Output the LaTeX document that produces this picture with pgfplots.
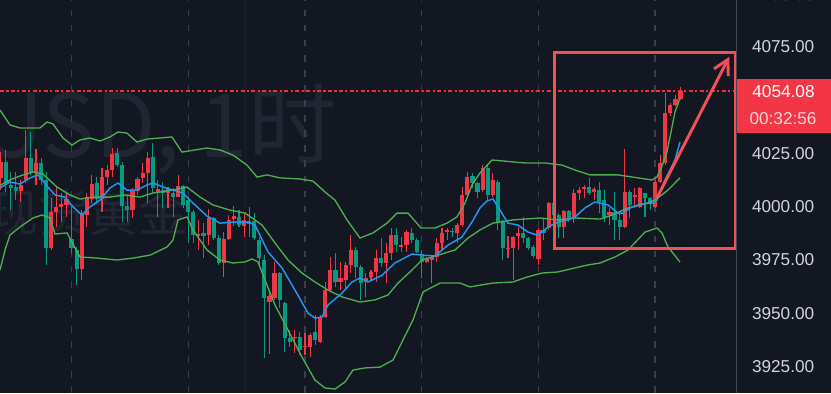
\documentclass[border=0pt]{standalone}
\usepackage{fontspec}
\setmainfont{Liberation Sans}
\newfontfamily\cjk{Noto Sans CJK SC}
\usepackage{pgfplots}
\pgfplotsset{compat=1.18}
\usepackage{pgfplotstable}
\usetikzlibrary{arrows.meta}
\definecolor{bg}{RGB}{19,23,34}
\definecolor{cR}{RGB}{242,54,69}
\definecolor{cG}{RGB}{8,153,129}
\definecolor{bb}{RGB}{76,175,80}
\definecolor{ma}{RGB}{33,150,243}
\definecolor{gridc}{RGB}{58,62,76}
\definecolor{wm}{RGB}{33,37,49}
\definecolor{ann}{RGB}{242,80,84}
\definecolor{lbl}{RGB}{209,212,220}
\definecolor{sep}{RGB}{67,70,81}
\definecolor{faint}{RGB}{28,32,44}
\definecolor{pline}{RGB}{255,40,60}

% up candles (red), columns: index open high low close
\pgfplotstableread{
k o h l c
0 4013.3 4025.8 4007.8 4021.1
4 4007.5 4012.5 4002.3 4010.2
5 4012.5 4035.9 4010.9 4022.7
7 4015.6 4026.9 4010.2 4020.3
10 3980.5 4003.9 3979.7 3997.6
11 3997.6 4009.4 3990.6 4000.0
12 4000.0 4006.2 3993.0 4001.1
13 4000.8 4006.2 3995.3 4003.4
16 3970.6 3998.4 3965.6 3996.9
17 3996.1 4006.2 3990.6 4004.7
18 4003.4 4014.8 4001.6 4010.6
20 4003.4 4018.0 3997.6 4013.7
21 4013.7 4019.5 4010.2 4017.2
22 4017.2 4027.3 4014.1 4024.7
26 3998.4 4008.6 3994.5 4007.5
27 4007.5 4014.1 4005.5 4012.8
28 4013.3 4020.3 4011.0 4015.6
29 4015.6 4025.8 4001.6 4022.7
31 4007.0 4012.5 3995.3 4008.1
33 4006.3 4009.4 3999.2 4008.6
35 4004.7 4014.9 4004.7 4009.7
39 3986.3 3993.8 3979.7 3987.2
41 3986.7 3998.8 3982.0 3994.5
44 3973.4 3988.3 3967.2 3984.7
45 3984.7 3996.1 3984.4 3993.8
46 3994.1 4000.3 3991.0 3995.6
48 3990.9 3997.0 3985.8 3993.8
49 3992.0 4000.0 3986.0 3993.5
53 3955.5 3960.0 3931.0 3958.0
54 3957.0 3974.2 3956.3 3968.8
58 3938.3 3942.2 3931.2 3939.1
60 3934.4 3940.6 3930.5 3934.7
61 3934.4 3940.6 3929.7 3939.8
63 3936.7 3949.2 3935.9 3948.4
64 3948.4 3964.8 3947.7 3960.9
65 3960.9 3976.6 3960.2 3970.3
67 3964.8 3974.2 3960.9 3966.4
68 3965.6 3974.2 3961.7 3972.7
69 3972.7 3986.7 3968.8 3979.7
72 3964.9 3968.8 3957.8 3966.4
73 3967.2 3970.3 3965.6 3969.5
74 3969.5 3979.7 3964.9 3975.8
76 3973.4 3982.8 3964.1 3978.1
77 3978.1 3989.9 3975.0 3986.7
79 3981.3 3985.9 3978.9 3982.0
80 3982.0 3989.1 3978.9 3988.3
84 3974.2 3976.6 3973.4 3975.8
85 3975.0 3976.9 3964.4 3976.6
86 3976.6 3985.2 3974.2 3982.8
87 3982.8 3989.9 3979.7 3987.5
88 3988.3 3989.9 3984.4 3989.1
90 3987.5 3992.2 3982.8 3991.4
91 3991.4 4009.4 3990.6 4005.5
92 4005.5 4016.4 4004.7 4014.1
95 4007.8 4019.5 4007.0 4018.0
97 4005.5 4015.9 4004.7 4012.5
100 3980.2 3986.3 3975.8 3980.8
101 3980.5 3986.3 3965.6 3985.6
102 3986.3 3990.3 3979.7 3987.5
106 3975.3 3989.9 3972.7 3989.1
108 3989.9 4002.4 3989.1 4001.6
111 3990.3 3998.4 3985.2 3998.0
113 3994.5 4008.1 3992.2 4006.6
114 4006.6 4009.4 4003.1 4007.8
115 4008.1 4010.2 4003.9 4009.1
117 4007.0 4009.1 4003.1 4008.1
120 3996.1 3999.2 3991.4 3997.7
123 3990.6 4026.9 3989.9 4007.0
125 4004.7 4008.6 3999.2 4005.5
126 4000.0 4009.1 3999.2 4008.6
129 4000.0 4012.5 3999.2 4011.7
130 4011.7 4024.2 4010.9 4020.3
131 4020.3 4053.2 4019.5 4043.8
132 4043.8 4048.5 4042.5 4047.7
133 4047.7 4052.4 4047.0 4050.5
134 4050.5 4056.2 4050.0 4054.08
}\upc

% down candles (green)
\pgfplotstableread{
k o h l c
1 4021.1 4026.6 4007.0 4010.9
2 4010.2 4016.4 3998.4 4008.6
3 4009.1 4016.4 4003.1 4007.5
6 4022.7 4035.2 4014.8 4016.4
8 4020.3 4022.7 4010.2 4012.5
9 4012.5 4016.4 3972.6 3980.5
14 3984.7 4000.0 3978.1 3980.5
15 3979.7 3981.2 3963.3 3970.6
19 4010.9 4013.7 4001.6 4003.4
23 4025.0 4027.3 4018.7 4019.5
24 4019.5 4021.1 3993.0 4000.3
25 4000.3 4005.5 3993.0 3998.4
30 4023.4 4030.0 4006.3 4008.6
32 4007.8 4011.7 3999.2 4006.6
34 4006.3 4008.6 3995.3 4004.7
36 4009.7 4010.2 3999.2 4000.8
37 4003.1 4004.7 3982.8 3997.7
38 3997.7 3998.4 3982.8 3986.7
40 3987.5 3992.2 3975.8 3986.3
42 3994.5 3995.3 3984.4 3985.2
43 3985.2 3986.7 3972.7 3973.4
47 3995.3 3998.4 3990.6 3991.4
50 3993.5 3996.9 3984.4 3985.2
51 3984.4 3986.0 3972.7 3975.8
52 3975.0 3977.3 3928.9 3957.0
55 3968.8 3969.5 3952.3 3956.3
56 3954.7 3955.5 3932.0 3938.3
57 3938.3 3942.2 3934.4 3936.7
59 3939.1 3941.4 3930.5 3932.8
62 3941.4 3949.2 3935.2 3937.5
66 3970.3 3978.4 3962.5 3964.8
70 3979.7 3980.9 3966.4 3971.9
71 3971.9 3972.7 3956.3 3964.1
75 3975.8 3985.2 3971.9 3973.4
78 3986.7 3989.9 3978.9 3982.0
81 3987.8 3989.9 3982.8 3984.4
82 3984.4 3985.2 3978.1 3978.9
83 3977.8 3979.7 3966.4 3974.2
89 3988.6 3989.9 3986.0 3988.0
93 4014.4 4015.6 4008.6 4010.9
94 4010.9 4011.7 4003.9 4007.0
96 4018.0 4019.5 4003.1 4005.5
98 4011.7 4012.5 3989.1 3993.0
99 3993.0 3993.8 3975.0 3980.5
103 3987.5 3995.3 3982.8 3985.2
104 3985.2 3986.0 3979.7 3980.5
105 3980.9 3982.0 3975.8 3976.9
107 3989.1 3994.5 3984.4 3987.5
109 4001.6 4004.7 3994.5 3996.1
110 3996.1 3996.9 3985.2 3990.3
112 3998.0 3998.4 3993.0 3994.5
116 4009.4 4013.3 4005.5 4006.3
118 4007.8 4011.5 3997.0 4002.0
119 4003.1 4007.8 3993.0 3995.3
121 3997.7 4007.0 3984.4 3993.8
122 3993.8 3996.9 3984.4 3990.6
124 4007.0 4007.8 3994.5 4000.8
127 4006.3 4006.3 3995.3 4003.9
128 4003.9 4004.7 3998.4 4001.6
}\dnc

\pgfplotstableread{
k p
-0.1 4045.3
1.87 4038.3
3.84 4036.9
7.78 4036.9
9.16 4039.7
10.34 4038.8
12.32 4032.2
14.09 4028.9
15.67 4031.3
17.64 4032.2
19.61 4030.8
21.58 4032.7
23.15 4035.0
24.93 4034.5
26.90 4030.3
28.87 4031.7
31.43 4032.2
33.79 4032.7
35.76 4025.6
38.33 4026.6
40.69 4027.5
43.25 4026.6
45.81 4024.2
48.57 4019.5
50.54 4013.9
52.51 4014.9
55.07 4013.5
59.01 4013.0
61.58 4012.0
63.94 4006.9
65.91 4003.1
68.28 3993.8
70.84 3985.3
73.40 3987.7
76.16 3992.3
78.13 3997.0
80.30 3997.0
82.86 3990.0
85.62 3990.0
87.98 3992.3
89.95 3995.2
91.53 4001.7
92.91 4010.2
94.48 4015.8
96.85 4021.9
103.35 4020.5
107.29 4020.5
110.64 4019.5
113.20 4017.2
116.16 4014.9
121.68 4014.9
125.62 4013.5
128.37 4012.5
129.36 4013.9
130.35 4019.1
131.33 4025.6
132.91 4044.4
133.89 4051.0
}\bbup

\pgfplotstableread{
k p
-0.1 3970.3
0.89 3979.7
1.87 3986.7
3.84 3990.5
6.40 3994.7
8.18 3996.1
9.75 3994.7
10.74 3987.2
13.10 3987.7
15.67 3976.4
19.01 3975.9
22.96 3975.0
26.11 3975.9
29.46 3977.3
32.81 3981.1
33.99 3984.4
34.98 3993.8
36.75 3995.2
37.93 3989.1
40.69 3979.7
43.25 3975.0
45.81 3973.6
48.18 3974.1
49.56 3975.5
50.74 3974.1
52.12 3965.6
54.09 3953.9
56.65 3942.2
59.41 3929.5
61.97 3918.7
63.94 3915.0
65.91 3914.5
67.88 3917.8
69.46 3923.4
71.82 3924.4
74.78 3924.8
77.34 3928.1
79.31 3937.5
81.28 3946.9
83.25 3960.0
86.60 3964.2
90.54 3964.2
92.51 3962.4
97.04 3964.2
100.99 3964.7
103.74 3967.0
106.70 3968.9
109.85 3969.4
113.20 3971.3
115.76 3972.7
118.13 3973.6
121.08 3976.4
123.65 3979.7
127.00 3988.1
129.36 3990.0
130.35 3987.7
131.53 3981.1
133.89 3974.1
}\bblow

\pgfplotstableread{
k p
-0.1 4010.0
1.87 4012.5
3.84 4014.4
6.40 4016.3
8.37 4015.3
11.13 4009.2
13.69 4005.5
15.67 4003.6
18.23 4004.5
21.58 4004.5
24.53 4005.5
27.49 4004.5
30.05 4006.4
33.99 4007.8
36.75 4009.2
39.31 4004.5
41.87 4000.8
45.22 3998.4
48.18 3997.0
51.53 3991.4
54.09 3983.0
56.65 3975.0
59.41 3968.9
61.97 3964.7
64.53 3960.9
67.29 3957.7
70.84 3955.3
73.79 3956.3
76.35 3958.6
78.33 3964.2
81.08 3970.3
83.05 3975.0
86.21 3977.3
89.56 3979.7
92.12 3985.3
94.48 3989.1
97.04 3992.3
100.99 3993.8
106.31 3994.7
109.85 3993.8
113.20 3994.7
118.13 3994.2
120.49 3996.1
123.65 3999.4
127.00 4001.3
128.97 4003.1
131.53 4007.8
133.89 4013.5
}\bbmid

\pgfplotstableread{
k p
-0.1 4008.8
1.87 4011.6
3.84 4010.6
5.81 4013.5
7.39 4014.9
9.16 4009.7
10.74 4005.5
12.71 4004.5
14.29 3999.9
16.06 3996.1
17.64 3999.9
19.61 4003.1
21.58 4008.8
23.15 4011.1
24.93 4007.8
26.90 4007.8
28.87 4010.2
30.05 4011.1
32.02 4009.2
33.99 4007.8
35.96 4006.4
37.93 4001.7
40.69 3995.6
43.25 3992.3
46.21 3992.8
48.77 3992.8
50.15 3991.4
52.71 3978.8
55.47 3971.3
58.03 3960.9
60.59 3950.1
61.97 3947.8
63.35 3948.3
64.53 3953.9
67.29 3959.5
69.26 3964.7
70.84 3966.6
72.41 3964.7
75.17 3967.8
77.73 3973.6
81.08 3977.8
83.05 3977.3
85.62 3976.9
88.18 3982.0
90.94 3985.8
92.91 3992.8
94.48 3999.4
95.86 4002.7
97.04 4003.6
98.42 3998.4
100.00 3992.3
101.97 3991.4
103.94 3988.1
105.71 3986.7
106.70 3988.1
107.88 3990.5
109.85 3992.8
111.82 3993.8
113.20 3995.2
115.17 3999.4
117.14 4002.2
119.70 4000.8
121.68 3997.0
122.66 3997.0
124.43 3999.9
126.41 4001.3
128.57 4001.7
129.36 4003.1
130.94 4012.5
132.91 4021.9
133.89 4030.3
}\mavg

\begin{document}
\begin{tikzpicture}
\begin{scope}[x=0.75pt,y=-0.75pt]
\fill[bg] (0,0) rectangle (831,393);
\begin{scope}
\clip (0,0) rectangle (736,393);
\draw[faint, line width=0.75pt] (245,0) -- (245,393);
\node[anchor=base east, inner sep=0pt, text=wm, font=\cjk\fontsize{66}{70}\selectfont] at (337,157) {XAUUSD, 1时};
\node[anchor=base east, inner sep=0pt, text=wm, font=\cjk\fontsize{37.5}{40}\selectfont] at (189,231) {现货黄金};
\end{scope}
\end{scope}
\begin{axis}[
  at={(0pt,0pt)}, anchor=north west,
  scale only axis, width=552pt, height=294.75pt,
  xmin=-0.0985, xmax=144.93, ymin=3912.65, ymax=4096.9,
  axis line style={draw=none},
  xtick={14,37,60,83,106,129}, xticklabels={},
  xmajorgrids,
  grid style={gridc, line width=1.1pt, dash pattern=on 4.9pt off 6.4pt},
  major tick length=0pt,
  ytick={3925,3950,3975,4000,4025,4075},
  yticklabel pos=right,
  yticklabel style={font=\fontsize{12.9}{14}\selectfont, text=lbl, anchor=west, inner sep=0pt, xshift=11.8pt,
    /pgf/number format/.cd, fixed, fixed zerofill, precision=2, 1000 sep={}, assume math mode=true},
]
\addplot[draw=pline, line width=1.3pt, dash pattern=on 3pt off 1.8pt on 1.6pt off 1.8pt] coordinates {(-0.1,4054.08) (145,4054.08)};
% wicks
\addplot[draw=none, forget plot, error bars/.cd, y dir=plus, y explicit, error mark=none,
  error bar style={draw=cG, line width=0.8pt}]
  table[x=k, y=l, y error expr={\thisrow{h}-\thisrow{l}}] {\dnc};
\addplot[draw=none, forget plot, error bars/.cd, y dir=plus, y explicit, error mark=none,
  error bar style={draw=cR, line width=0.8pt}]
  table[x=k, y=l, y error expr={\thisrow{h}-\thisrow{l}}] {\upc};
% bodies
\addplot[draw=none, forget plot, error bars/.cd, y dir=plus, y explicit, error mark=none,
  error bar style={draw=cG, line width=3.1pt}]
  table[x=k, y expr={min(\thisrow{o},\thisrow{c})}, y error expr={max(abs(\thisrow{c}-\thisrow{o}),0.45)}] {\dnc};
\addplot[draw=none, forget plot, error bars/.cd, y dir=plus, y explicit, error mark=none,
  error bar style={draw=cR, line width=3.1pt}]
  table[x=k, y expr={min(\thisrow{o},\thisrow{c})}, y error expr={max(abs(\thisrow{c}-\thisrow{o}),0.45)}] {\upc};
% bands and average
\addplot[bb, line width=1pt] table[x=k, y=p] {\bbup};
\addplot[bb, line width=1pt] table[x=k, y=p] {\bblow};
\addplot[bb, line width=1pt] table[x=k, y=p] {\bbmid};
\addplot[ma, line width=1.1pt] table[x=k, y=p] {\mavg};
% annotation
\draw[ann, line width=2pt] (axis cs:109.12,4072.4) rectangle (axis cs:144.73,3980.5);
\draw[ann, line width=2.2pt, -{Straight Barb[length=11pt,width=12pt]}] (axis cs:129.3,4003.9) -- (axis cs:143.6,4070.3);
\end{axis}
\begin{scope}[x=0.75pt,y=-0.75pt]
\draw[sep, line width=0.75pt] (736.5,0) -- (736.5,393);
\fill[cR] (737,79) rectangle (831,133);
\node[text=white, inner sep=0pt, font=\fontsize{12.9}{14}\selectfont] at (783.5,92) {4054.08};
\node[text={rgb,255:red,252;green,212;blue,216}, inner sep=0pt, font=\fontsize{12.9}{14}\selectfont] at (783,118.5) {00:32:56};
\begin{scope}
\clip (736,0) rectangle (831,393);
\node[text=lbl, anchor=west, inner sep=0pt, font=\fontsize{12.9}{14}\selectfont] at (751.7,-5) {4100.00};
\end{scope}
\pgfresetboundingbox
\useasboundingbox (0,0) rectangle (831,393);
\end{scope}
\end{tikzpicture}
\end{document}
